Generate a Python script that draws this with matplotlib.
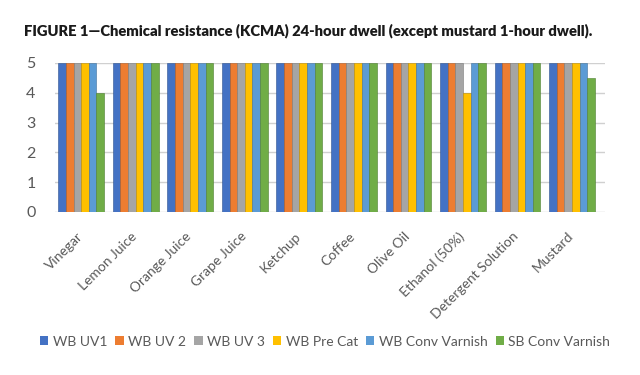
import matplotlib
matplotlib.use("Agg")
import matplotlib.pyplot as plt
import matplotlib.transforms as mtransforms
import numpy as np

categories = ["Vinegar", "Lemon Juice", "Orange Juice", "Grape Juice", "Ketchup",
              "Coffee", "Olive Oil", "Ethanol (50%)", "Detergent Solution", "Mustard"]
series_names = ["WB UV1", "WB UV 2", "WB UV 3", "WB Pre Cat", "WB Conv Varnish", "SB Conv Varnish"]
wb_uv1 = [5, 5, 5, 5, 5, 5, 5, 5, 5, 5]
wb_uv2 = [5, 5, 5, 5, 5, 5, 5, 5, 5, 5]
wb_uv3 = [5, 5, 5, 5, 5, 5, 5, 5, 5, 5]
wb_pre_cat = [5, 5, 5, 5, 5, 5, 5, 4, 5, 5]
wb_conv_varnish = [5, 5, 5, 5, 5, 5, 5, 5, 5, 5]
sb_conv_varnish = [4, 5, 5, 5, 5, 5, 5, 5, 5, 4.5]
colors = ["#4472C4", "#ED7D31", "#A5A5A5", "#FFC000", "#5B9BD5", "#70AD47"]
edge_colors = ["#2F528F", "#AE5A21", "#7B7B7B", "#BC8C00", "#41719C", "#4E7F31"]
title = "FIGURE 1\u2014Chemical resistance (KCMA) 24-hour dwell (except mustard 1-hour dwell)."

all_series = [wb_uv1, wb_uv2, wb_uv3, wb_pre_cat, wb_conv_varnish, sb_conv_varnish]

plt.rcParams["font.family"] = ["Lato", "DejaVu Sans"]

fig = plt.figure(figsize=(6.4, 3.75), dpi=100)
ax = fig.add_axes([0.086, 0.435, 0.859, 0.397])

x = np.arange(len(categories))
n = len(all_series)
bw = 0.84 / n
for i, (vals, name, c, ec) in enumerate(zip(all_series, series_names, colors, edge_colors)):
    ax.bar(x - 0.42 + bw * (i + 0.5), vals, width=bw, color=c, edgecolor=ec,
           linewidth=0.4, label=name, zorder=3)

ax.set_xlim(-0.48, 9.6)
ax.set_ylim(0, 5)
ax.set_yticks([0, 1, 2, 3, 4, 5])
ax.yaxis.grid(True, color="#D0D0D0", linewidth=1.0, zorder=0)
ax.set_axisbelow(True)
for s in ax.spines.values():
    s.set_visible(False)
ax.tick_params(axis="both", length=0, colors="#595959")
ax.tick_params(axis="y", labelsize=11.5, pad=14)
ax.set_xticks(x)
ax.set_xticklabels(categories, rotation=45, ha="right", rotation_mode="anchor",
                   fontsize=10, color="#595959")
ax.tick_params(axis="x", pad=13)
shift = mtransforms.ScaledTranslation(-5 / 100, 0, fig.dpi_scale_trans)
for lbl in ax.get_xticklabels():
    lbl.set_transform(lbl.get_transform() + shift)

t = fig.text(24 / 640, 1 - 31 / 375, title, fontsize=12.5, fontweight="heavy",
             family=["Lato", "DejaVu Sans"], color="#1a1a1a", va="center")
fig.canvas.draw()
w = t.get_window_extent(renderer=fig.canvas.get_renderer()).width
t.set_fontsize(12.5 * 568 / w)

leg = fig.legend(loc="center", bbox_to_anchor=(0.508, 0.089), ncol=6, frameon=False,
                 fontsize=10, handlelength=0.6, handleheight=0.6, handletextpad=0.3,
                 columnspacing=0.6, labelcolor="#595959")
for h in leg.legend_handles:
    h.set_edgecolor("none")

fig.savefig("out.png", dpi=100)
